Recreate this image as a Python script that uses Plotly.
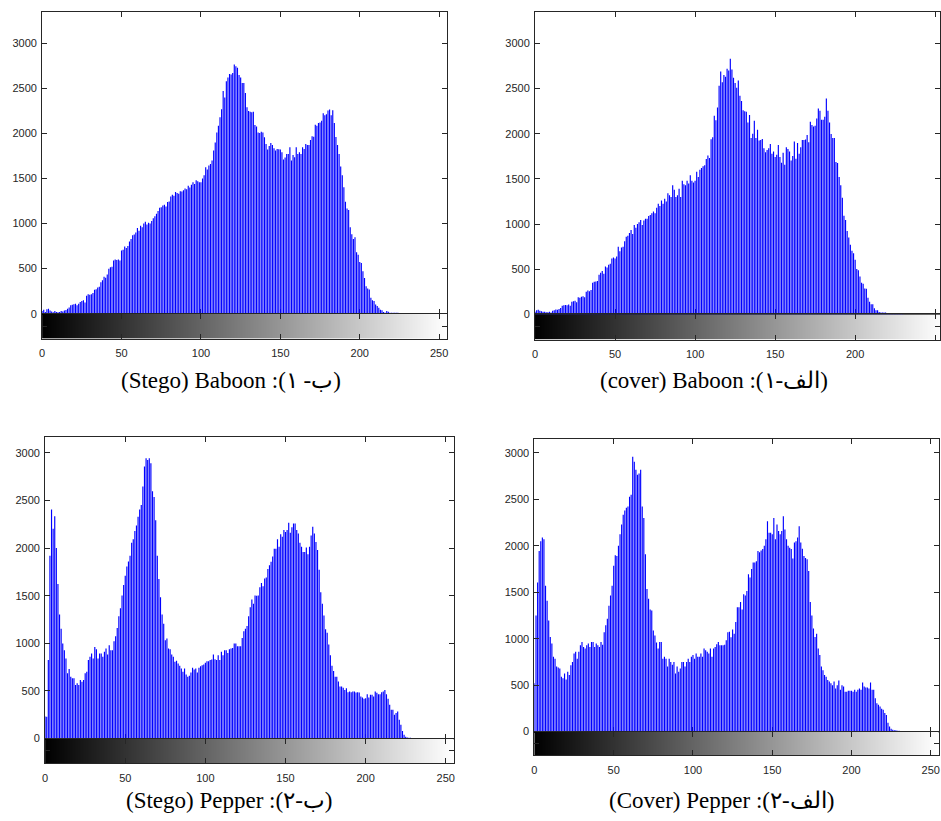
import plotly.graph_objects as go

# ---------------- data ----------------
bins = list(range(256))
gray_levels = list(range(256))
x_ticks = [0, 50, 100, 150, 200, 250]
y_ticks = [0, 500, 1000, 1500, 2000, 2500, 3000]

stego_baboon = [
    30, 45, 20, 50, 55, 35, 25, 15, 30, 20,
    15, 20, 30, 25, 35, 40, 55, 70, 95, 100,
    105, 110, 95, 110, 130, 140, 150, 125, 200, 215,
    210, 215, 230, 265, 270, 290, 300, 350, 370, 410,
    400, 435, 500, 515, 520, 590, 600, 595, 600, 590,
    700, 710, 745, 730, 750, 800, 830, 870, 880, 900,
    950, 920, 975, 960, 1000, 1020, 990, 1010, 1000, 1030,
    1060, 1080, 1110, 1140, 1175, 1180, 1200, 1210, 1190, 1240,
    1245, 1300, 1320, 1310, 1350, 1340, 1330, 1360, 1355, 1370,
    1390, 1380, 1420, 1400, 1430, 1460, 1440, 1480, 1470, 1460,
    1460, 1500, 1535, 1625, 1600, 1645, 1660, 1700, 1810, 1900,
    2010, 2085, 2180, 2270, 2470, 2400, 2580, 2620, 2660, 2655,
    2670, 2765, 2745, 2730, 2650, 2620, 2560, 2560, 2450, 2290,
    2250, 2240, 2235, 2240, 2093, 2078, 2012, 2005, 2020, 2012,
    1957, 1884, 1821, 1860, 1895, 1873, 1836, 1810, 1829, 1825,
    1821, 1792, 1711, 1733, 1773, 1773, 1847, 1700, 1760, 1737,
    1847, 1773, 1792, 1773, 1847, 1829, 1884, 1873, 1873, 1928,
    1968, 1964, 2097, 2086, 2115, 2122, 2141, 2225, 2203, 2214,
    2254, 2265, 2203, 2258, 2115, 1961, 1873, 1773, 1634, 1535,
    1403, 1241, 1168, 1150, 958, 881, 830, 848, 683, 654,
    573, 562, 470, 397, 305, 279, 268, 176, 150, 140,
    103, 84, 66, 45, 37, 18, 11, 29, 22, 10,
    10, 10, 10, 10, 10, 7, 3, 2, 2, 1,
    3, 0, 0, 0, 0, 0, 0, 0, 0, 0,
    0, 0, 0, 0, 0, 0, 0, 0, 0, 0,
    0, 0, 0, 0, 0, 0,
]

cover_baboon = [
    30, 45, 50, 40, 35, 30, 30, 25, 25, 30,
    20, 40, 45, 55, 50, 60, 70, 95, 100, 105,
    100, 110, 95, 140, 145, 150, 135, 190, 185, 195,
    200, 190, 250, 265, 255, 270, 350, 360, 365, 370,
    440, 460, 480, 450, 530, 520, 550, 560, 620, 630,
    620, 640, 750, 700, 740, 750, 810, 860, 870, 900,
    935, 890, 990, 960, 1000, 1020, 1045, 990, 1040, 1060,
    1060, 1090, 1100, 1120, 1140, 1120, 1180, 1225, 1200, 1260,
    1225, 1280, 1250, 1340, 1320, 1300, 1430, 1380, 1300, 1320,
    1390, 1300, 1480, 1440, 1430, 1480, 1450, 1540, 1480, 1460,
    1480, 1580, 1520, 1600, 1620, 1640, 1650, 1720, 1760, 1730,
    1940, 1960, 2200, 2150, 2290, 2530, 2690, 2570, 2650, 2630,
    2720, 2700, 2830, 2710, 2620, 2560, 2510, 2590, 2420, 2363,
    2261, 2250, 2242, 2125, 2206, 1953, 2000, 2144, 1953, 2045,
    1924, 1930, 1942, 1840, 1796, 1820, 1840, 1887, 1777, 1803,
    1741, 1766, 1876, 1741, 1678, 1788, 1656, 1851, 1832, 1803,
    1704, 1752, 1913, 1722, 1898, 1777, 1851, 1931, 1931, 1935,
    1986, 1906, 2133, 2096, 2081, 2089, 2169, 2279, 2253, 2155,
    2155, 2188, 2389, 2253, 2125, 1997, 1953, 1953, 1686, 1675,
    1521, 1429, 1290, 1092, 1045, 924, 851, 770, 704, 678,
    605, 503, 488, 420, 349, 338, 286, 283, 184, 140,
    111, 111, 67, 45, 45, 27, 20, 20, 20, 20,
    15, 15, 10, 8, 8, 5, 5, 5, 3, 8,
    2, 0, 0, 0, 0, 0, 0, 0, 0, 0,
    0, 0, 0, 0, 0, 0, 0, 0, 0, 0,
    0, 0, 0, 0, 0, 0,
]

stego_pepper = [
    233, 230, 824, 1919, 2405, 2204, 2336, 2002, 1623, 1303,
    1154, 998, 928, 841, 685, 730, 650, 633, 633, 563,
    580, 563, 615, 598, 615, 685, 702, 824, 859, 893,
    841, 963, 939, 841, 893, 893, 859, 911, 945, 883,
    980, 928, 928, 1022, 1074, 1161, 1286, 1370, 1502, 1613,
    1710, 1807, 1860, 1919, 2058, 2093, 2179, 2239, 2329, 2405,
    2454, 2649, 2857, 2944, 2927, 2944, 2892, 2597, 2538, 2294,
    1919, 1675, 1484, 1303, 1206, 1032, 1050, 945, 939, 883,
    859, 806, 817, 789, 765, 737, 702, 737, 674, 650,
    660, 695, 744, 726, 737, 695, 744, 760, 770, 779,
    796, 813, 813, 824, 831, 883, 834, 824, 876, 824,
    911, 876, 928, 928, 900, 939, 945, 952, 998, 998,
    970, 970, 970, 1057, 1126, 1154, 1182, 1286, 1380, 1460,
    1415, 1502, 1500, 1502, 1589, 1634, 1599, 1682, 1693, 1780,
    1821, 1856, 1912, 1995, 1995, 2093, 2016, 2145, 2120, 2190,
    2169, 2190, 2266, 2162, 2220, 2259, 2259, 2190, 2155, 2058,
    2016, 1960, 1960, 2006, 1936, 2016, 2134, 2225, 2155, 2065,
    1981, 1773, 1536, 1415, 1293, 1147, 1112, 987, 876, 765,
    709, 650, 650, 600, 546, 546, 535, 511, 528, 487,
    494, 487, 494, 494, 483, 487, 483, 441, 431, 417,
    424, 466, 431, 459, 459, 441, 494, 480, 466, 466,
    487, 494, 511, 466, 417, 355, 302, 302, 250, 268,
    285, 198, 146, 80, 40, 20, 10, 8, 8, 5,
    0, 0, 0, 0, 0, 0, 0, 0, 0, 0,
    0, 0, 0, 0, 0, 0, 0, 0, 0, 0,
    0, 0, 0, 0, 0, 0,
]

cover_pepper = [
    520, 1250, 1605, 1945, 2050, 2090, 2070, 1570, 1410, 1195,
    1020, 950, 805, 785, 700, 690, 680, 590, 575, 625,
    560, 645, 610, 715, 750, 840, 860, 785, 860, 930,
    965, 910, 895, 930, 950, 910, 965, 965, 910, 950,
    930, 910, 965, 935, 1070, 1145, 1215, 1355, 1465, 1570,
    1785, 1900, 1890, 2000, 2125, 2230, 2335, 2380, 2410, 2425,
    2530, 2550, 2960, 2905, 2820, 2765, 2780, 2820, 2425, 2300,
    1910, 1535, 1430, 1315, 1305, 1090, 1035, 960, 895, 965,
    965, 785, 805, 785, 700, 785, 750, 720, 750, 625,
    700, 645, 680, 750, 750, 700, 750, 785, 750, 805,
    825, 785, 840, 805, 805, 840, 805, 895, 875, 860,
    840, 895, 805, 895, 910, 940, 965, 930, 930, 930,
    935, 985, 1070, 1075, 1015, 1100, 1055, 1180, 1340, 1340,
    1395, 1315, 1480, 1465, 1515, 1695, 1660, 1750, 1820, 1820,
    1835, 1945, 1930, 1950, 1965, 2000, 2070, 2265, 2140, 2140,
    2125, 2300, 2070, 2230, 2160, 2125, 2160, 2320, 2175, 2070,
    2000, 1980, 1965, 1865, 2035, 2050, 2090, 2210, 2035, 1970,
    1890, 1870, 1855, 1730, 1395, 1250, 1110, 1020, 1055, 895,
    825, 700, 660, 610, 590, 555, 540, 520, 500, 540,
    465, 500, 550, 450, 500, 485, 430, 430, 440, 440,
    440, 430, 450, 430, 450, 465, 450, 530, 485, 475,
    475, 465, 530, 450, 450, 360, 305, 290, 270, 245,
    235, 200, 180, 95, 55, 30, 20, 15, 15, 8,
    8, 3, 0, 0, 0, 0, 0, 0, 0, 0,
    0, 0, 0, 0, 0, 0, 0, 0, 0, 0,
    0, 0, 0, 0, 0, 0,
]

captions = [
    "(Stego) Baboon :(\u0628- \u06f1)",
    "(cover) Baboon :(\u0627\u0644\u0641-\u06f1)",
    "(Stego) Pepper :(\u0628-\u06f2)",
    "(Cover) Pepper :(\u0627\u0644\u0641-\u06f2)",
]

# ---------------- layout geometry (pixels) ----------------
W, H = 941, 821
panels = [
    dict(values=stego_baboon, x0=39.3, x1=446.0, top=12.0, base=316.0, bot=341.0,
         ymax=3349, xmax=255, cx=229, cy=383),
    dict(values=cover_baboon, x0=534.3, x1=941.0, top=12.3, base=316.7, bot=342.0,
         ymax=3345, xmax=253.0, cx=714, cy=383),
    dict(values=stego_pepper, x0=42.3, x1=452.7, top=440.0, base=744.0, bot=769.0,
         ymax=3170, xmax=255, cx=227, cy=806),
    dict(values=cover_pepper, x0=533.7, x1=939.7, top=442.0, base=737.0, bot=761.0,
         ymax=3153, xmax=255, cx=722, cy=806),
]

tick_font = dict(family="Liberation Sans, Arial, sans-serif", size=11, color="#262626")
line_col = "#262626"

fig = go.Figure()
layout = dict(
    width=W, height=H,
    margin=dict(l=0, r=0, t=0, b=0),
    paper_bgcolor="white", plot_bgcolor="white",
    showlegend=False,
    annotations=[],
)

def ax_name(n, kind):
    return kind if n == 1 else f"{kind}{n}"

for k, p in enumerate(panels):
    nm = 2 * k + 1   # main histogram axes
    nc = 2 * k + 2   # grayscale bar axes
    xd = [p["x0"] / W, min(p["x1"] / W, 1.0)]
    y_main = [1 - p["base"] / H, 1 - p["top"] / H]
    y_cb = [1 - p["bot"] / H, 1 - p["base"] / H]

    fig.add_trace(go.Bar(
        x=bins, y=p["values"], width=0.72,
        marker=dict(color="#0000ff", line=dict(width=0)),
        xaxis=ax_name(nm, "x"), yaxis=ax_name(nm, "y"),
        hoverinfo="skip",
    ))
    fig.add_trace(go.Heatmap(
        z=[gray_levels], x=gray_levels, y=[0.5],
        colorscale=[[0, "#000000"], [1, "#ffffff"]], zmin=0, zmax=255,
        showscale=False, hoverinfo="skip",
        xaxis=ax_name(nc, "x"), yaxis=ax_name(nc, "y"),
    ))

    common = dict(showgrid=False, zeroline=False, showline=True, linecolor=line_col,
                  linewidth=1, ticks="inside", ticklen=5, tickcolor=line_col,
                  tickwidth=1, mirror="ticks", tickfont=tick_font)
    layout[ax_name(nm, "xaxis")] = dict(
        domain=xd, range=[0, p["xmax"]], anchor=ax_name(nm, "y"),
        tickmode="array", tickvals=x_ticks, showticklabels=False,
        layer="below traces", **common)
    layout[ax_name(nm, "yaxis")] = dict(
        domain=y_main, range=[0, p["ymax"]], anchor=ax_name(nm, "x"),
        tickmode="array", tickvals=y_ticks, ticklabelstandoff=2, **common)
    layout[ax_name(nc, "xaxis")] = dict(
        domain=xd, range=[0, p["xmax"]], anchor=ax_name(nc, "y"),
        tickmode="array", tickvals=x_ticks, ticklabelstandoff=4, **common)
    layout[ax_name(nc, "yaxis")] = dict(
        domain=y_cb, range=[0, 1], anchor=ax_name(nc, "x"),
        tickmode="array", tickvals=[0.5], showticklabels=False, **common)

    layout["annotations"].append(dict(
        text=captions[k], x=p["cx"] / W, y=1 - p["cy"] / H,
        xref="paper", yref="paper", xanchor="center", yanchor="middle",
        showarrow=False,
        font=dict(family="Liberation Serif, Times New Roman, serif", size=23, color="#000000"),
    ))

fig.update_layout(**layout)
fig.write_html(
    "out.html",
    config={"staticPlot": True, "displayModeBar": False},
    post_script="document.body.style.margin='0';document.body.style.overflow='hidden';",
)
